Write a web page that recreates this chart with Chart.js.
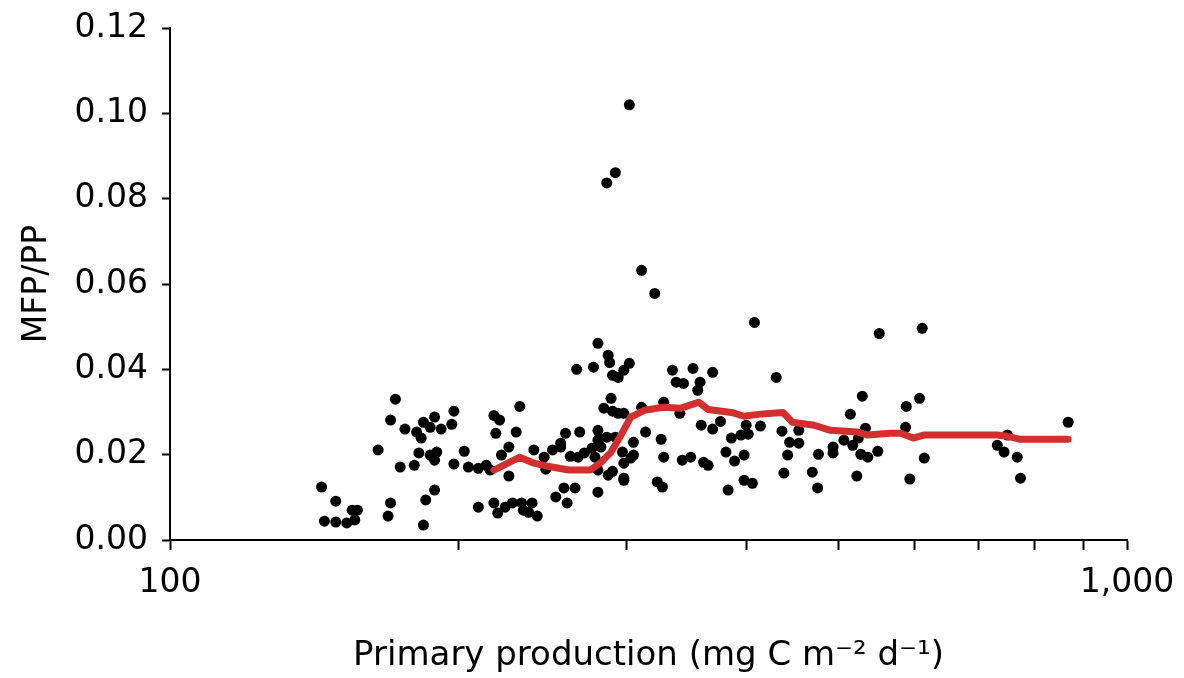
<!DOCTYPE html>
<html>
<head>
<meta charset="utf-8">
<title>MFP/PP vs primary production</title>
<script src="https://cdn.jsdelivr.net/npm/chart.js@4.4.1/dist/chart.umd.min.js"></script>
<style>
  html, body { margin: 0; padding: 0; background: #fff; }
  #wrap { width: 1184px; height: 678px; }
</style>
</head>
<body>
<div id="wrap"><canvas id="chart" width="1184" height="678"></canvas></div>
<script>
// primary production (mg C m-2 d-1) of each station
const ppValues = [
  144, 149, 145, 149, 153, 155, 157, 156, 165, 170, 172, 170, 169, 176, 174, 180, 181, 183, 182, 184,
  187, 189, 187, 190, 189, 192, 185, 189, 184, 198, 197, 198, 203, 205, 210, 210, 214, 216, 218, 221,
  219, 230, 232, 226, 222, 226, 218, 220, 224, 228, 233, 234, 239, 237, 242, 240, 246, 247, 251, 256,
  259, 268, 262, 267, 271, 276, 278, 280, 281, 286, 280, 287, 290, 280, 284, 289, 294, 290, 253, 258,
  265, 260, 266, 277, 288, 290, 280, 287, 302, 298, 294, 298, 311, 328, 335, 338, 344, 352, 358, 356,
  369, 341, 359, 369, 376, 314, 326, 305, 292, 297, 305, 298, 298, 328, 343, 350, 361, 365, 323, 327,
  383, 381, 386, 389, 395, 402, 400, 398, 414, 436, 454, 444, 454, 442, 476, 493, 493, 506, 517, 524,
  527, 536, 549, 438, 469, 475, 398, 406, 522, 514, 529, 533, 408, 430, 551, 611, 588, 607, 587, 614,
  593, 868, 750, 732, 744, 768, 774, 302, 292, 286, 311, 321, 256, 282, 303, 298, 280
];
// MFP/PP ratio of each station
const ratioValues = [
  0.0124, 0.0091, 0.0044, 0.0042, 0.0040, 0.0070, 0.0070, 0.0047, 0.0211, 0.0281, 0.0330, 0.0087, 0.0056, 0.0260, 0.0171, 0.0175, 0.0253, 0.0239, 0.0204, 0.0276,
  0.0264, 0.0288, 0.0199, 0.0206, 0.0187, 0.0260, 0.0094, 0.0117, 0.0035, 0.0302, 0.0271, 0.0178, 0.0208, 0.0171, 0.0168, 0.0077, 0.0175, 0.0164, 0.0292, 0.0281,
  0.0250, 0.0253, 0.0313, 0.0218, 0.0199, 0.0150, 0.0087, 0.0063, 0.0077, 0.0087, 0.0087, 0.0070, 0.0087, 0.0065, 0.0056, 0.0211, 0.0194, 0.0166, 0.0211, 0.0218,
  0.0250, 0.0253, 0.0196, 0.0194, 0.0204, 0.0215, 0.0194, 0.0257, 0.0239, 0.0241, 0.0164, 0.0152, 0.0161, 0.0112, 0.0309, 0.0332, 0.0297, 0.0302, 0.0101, 0.0122,
  0.0122, 0.0087, 0.0400, 0.0405, 0.0416, 0.0386, 0.0461, 0.0433, 0.0414, 0.0398, 0.0381, 0.0297, 0.0311, 0.0323, 0.0398, 0.0370, 0.0367, 0.0402, 0.0370, 0.0351,
  0.0393, 0.0297, 0.0269, 0.0260, 0.0278, 0.0253, 0.0236, 0.0229, 0.0241, 0.0206, 0.0199, 0.0180, 0.0140, 0.0194, 0.0187, 0.0194, 0.0182, 0.0175, 0.0136, 0.0124,
  0.0117, 0.0206, 0.0239, 0.0185, 0.0246, 0.0248, 0.0269, 0.0199, 0.0267, 0.0255, 0.0257, 0.0229, 0.0227, 0.0199, 0.0201, 0.0218, 0.0204, 0.0234, 0.0222, 0.0239,
  0.0201, 0.0194, 0.0208, 0.0157, 0.0159, 0.0122, 0.0140, 0.0133, 0.0150, 0.0295, 0.0337, 0.0262, 0.0510, 0.0381, 0.0484, 0.0496, 0.0313, 0.0332, 0.0264, 0.0192,
  0.0143, 0.0276, 0.0246, 0.0222, 0.0206, 0.0194, 0.0145, 0.1020, 0.0861, 0.0837, 0.0632, 0.0578, 0.0227, 0.0218, 0.0192, 0.0145, 0.0234
];
// running mean (red line)
const meanPP = [218, 232, 240, 248, 261, 275, 282, 289, 296, 303, 313, 328, 342, 357, 365, 386, 398, 414, 437, 447, 471, 490, 523, 536, 566, 580, 598, 613, 732, 750, 774, 868];
const meanRatio = [0.0164, 0.0194, 0.0180, 0.0173, 0.0164, 0.0164, 0.0182, 0.0206, 0.0246, 0.0288, 0.0304, 0.0311, 0.0309, 0.0323, 0.0306, 0.0299, 0.0290, 0.0295, 0.0299, 0.0276, 0.0269, 0.0257, 0.0253, 0.0246, 0.0250, 0.0250, 0.0239, 0.0246, 0.0246, 0.0243, 0.0236, 0.0236];

const xTickValues = [100, 200, 300, 400, 500, 600, 700, 800, 900, 1000];
const xLabelledTicks = [100, 1000];
const yTickStep = 0.02;

const FONT = 'DejaVu Sans';

const points = ppValues.map((v, i) => ({ x: v, y: ratioValues[i] }));
const meanLine = meanPP.map((v, i) => ({ x: v, y: meanRatio[i] }));

const ctx = document.getElementById('chart').getContext('2d');
new Chart(ctx, {
  type: 'scatter',
  data: {
    datasets: [
      {
        label: 'Running mean',
        data: meanLine,
        showLine: true,
        borderColor: '#d32f2f',
        borderWidth: 7,
        borderJoinStyle: 'round',
        borderCapStyle: 'round',
        pointRadius: 0,
        tension: 0,
        fill: false
      },
      {
        label: 'Stations',
        data: points,
        backgroundColor: '#000',
        borderColor: '#000',
        borderWidth: 0,
        pointRadius: 5.5
      }
    ]
  },
  options: {
    responsive: false,
    animation: false,
    layout: { padding: { top: 28, right: 57, left: 0, bottom: 0 } },
    plugins: {
      legend: { display: false },
      tooltip: { enabled: false }
    },
    scales: {
      x: {
        type: 'logarithmic',
        position: 'bottom',
        min: 100,
        max: 1000,
        afterBuildTicks: function(scale) {
          scale.ticks = xTickValues.map(v => ({ value: v }));
        },
        afterFit: function(scale) {
          scale.height = 138;
          scale.paddingLeft = 0;
          scale.paddingRight = 0;
        },
        ticks: {
          autoSkip: false,
          maxRotation: 0,
          color: '#000',
          padding: 14,
          font: { family: FONT, size: 33 },
          callback: function(value) {
            return xLabelledTicks.includes(value) ? value.toLocaleString('en-US') : '';
          }
        },
        grid: {
          drawOnChartArea: false,
          drawTicks: true,
          tickLength: 10,
          tickColor: '#000',
          tickWidth: 2
        },
        border: { display: true, color: '#000', width: 2 },
        title: {
          display: true,
          text: 'Primary production (mg C m\u207B\u00B2 d\u207B\u00B9)',
          color: '#000',
          font: { family: FONT, size: 34 },
          padding: { top: 0, bottom: 1 }
        }
      },
      y: {
        min: 0,
        max: 0.12,
        afterFit: function(scale) {
          scale.width = 170;
          scale.paddingTop = 0;
          scale.paddingBottom = 0;
        },
        ticks: {
          stepSize: yTickStep,
          color: '#000',
          padding: 14,
          font: { family: FONT, size: 33 },
          callback: function(value) {
            return Number(value).toFixed(2);
          }
        },
        grid: {
          drawOnChartArea: false,
          drawTicks: true,
          tickLength: 8,
          tickColor: '#000',
          tickWidth: 2
        },
        border: { display: true, color: '#000', width: 2 },
        title: {
          display: true,
          text: 'MFP/PP',
          color: '#000',
          font: { family: FONT, size: 33 },
          padding: { top: 18, bottom: 0 }
        }
      }
    }
  }
});
</script>
</body>
</html>
